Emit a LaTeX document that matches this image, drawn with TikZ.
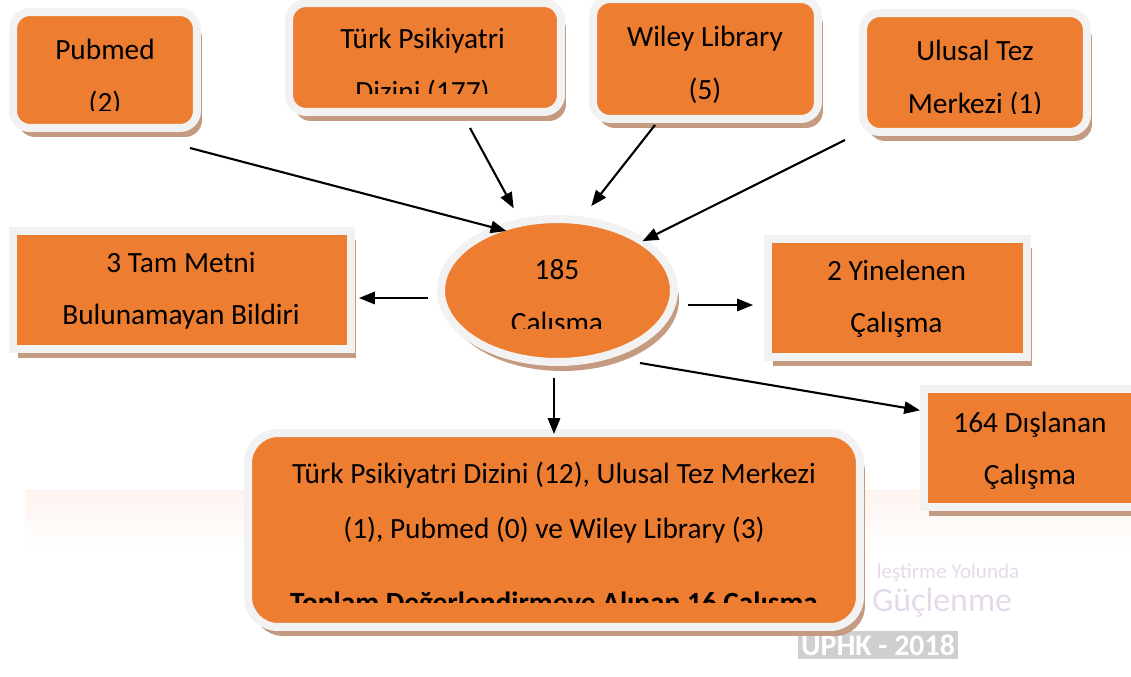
\documentclass[tikz,border=0pt]{standalone}
\usepackage{fontspec}
\setmainfont{Carlito}
\usepackage{xcolor}
\usepackage{tikz}
\usetikzlibrary{arrows.meta, shapes.geometric, shadows}

\definecolor{turuncu}{RGB}{237,125,49}
\definecolor{acikgri}{RGB}{242,242,242}
\definecolor{kahve}{RGB}{196,154,128}
\definecolor{leylak}{RGB}{230,218,234}
\definecolor{seftali}{RGB}{254,244,239}

\tikzset{
  kutu/.style={draw=acikgri, line width=0.16cm, fill=turuncu, inner sep=0pt,
    drop shadow={shadow xshift=0.1cm, shadow yshift=-0.18cm, fill=kahve, opacity=1}},
  yuvarlak/.style={kutu, rounded corners=0.34cm},
  yazi/.style={anchor=base, inner sep=0pt, font=\fontsize{16.7}{20}\selectfont},
  ok/.style={->, line width=1.2pt},
}

\begin{document}
\begin{tikzpicture}[x=0.02cm, y=-0.02cm, >={Triangle[length=9pt,width=7pt]}]
    % sayfa ve arka plan
    \fill[white] (0,0) rectangle (1131,676);
    \useasboundingbox (0,0) rectangle (1131,676);
    \shade[top color=seftali, bottom color=white] (25,490) rectangle (1131,550);
    \node[font=\fontsize{12}{12}\selectfont, text=leylak] (wm1) at (948,573) {leştirme Yolunda};
    \node[font=\fontsize{19.3}{20}\selectfont, text=leylak] (wm2) at (942,603) {Güçlenme};
    \node[fill=gray!38, text=white, font=\bfseries\fontsize{17}{17}\selectfont, inner sep=2pt] (wm3) at (878,645) {UPHK - 2018};

    % kaynak kutulari
    \node[yuvarlak, minimum width=3.68cm, minimum height=2.32cm] (pub) at (105,70) {};
    \node[yuvarlak, minimum width=5.44cm, minimum height=2.18cm] (tpd) at (425,57.5) {};
    \node[yuvarlak, minimum width=4.5cm, minimum height=2.4cm] (wil) at (705.5,59) {};
    \node[yuvarlak, minimum width=4.48cm, minimum height=2.38cm] (ulu) at (975,72.5) {};

    % ortadaki elips ve sonuc kutulari
    \node[kutu, ellipse, minimum width=4.66cm, minimum height=2.86cm] (ell) at (557.5,290.5) {};
    \node[kutu, minimum width=6.76cm, minimum height=2.36cm] (tam) at (182,290) {};
    \node[kutu, minimum width=5.18cm, minimum height=2.36cm] (yin) at (897.5,298) {};
    \node[kutu, minimum width=4.22cm, minimum height=2.36cm] (dis) at (1029.5,448) {};
    \node[yuvarlak, rounded corners=0.6cm, minimum width=12.24cm, minimum height=3.88cm] (sonuc) at (554,530) {};

    % yazilar (kutunun altinda kesilenler)
    \begin{scope}
        \clip (0,0) rectangle (1131,110);
        \node[yazi] (pub1) at (105,59) {Pubmed};
        \node[yazi] (pub2) at (105,112) {(2)};
    \end{scope}
    \begin{scope}
        \clip (0,0) rectangle (1131,93);
        \node[yazi] (tpd1) at (422.5,48) {Türk Psikiyatri};
        \node[yazi] (tpd2) at (422.5,101) {Dizini (177)};
    \end{scope}
    \node[yazi] (wil1) at (705,46) {Wiley Library};
    \node[yazi] (wil2) at (705,99) {(5)};
    \begin{scope}
        \clip (0,0) rectangle (1131,113);
        \node[yazi] (ulu1) at (975,60) {Ulusal Tez};
        \node[yazi] (ulu2) at (975,113) {Merkezi (1)};
    \end{scope}
    \begin{scope}
        \clip (0,0) rectangle (1131,328);
        \node[yazi] (ell1) at (557,279) {185};
        \node[yazi] (ell2) at (557,332) {Çalışma};
    \end{scope}
    \node[yazi] (tam1) at (181,272) {3 Tam Metni};
    \node[yazi] (tam2) at (181,324) {Bulunamayan Bildiri};
    \node[yazi] (yin1) at (896.5,280) {2 Yinelenen};
    \node[yazi] (yin2) at (896.5,332) {Çalışma};
    \node[yazi] (dis1) at (1030,432) {164 Dışlanan};
    \node[yazi] (dis2) at (1030,484) {Çalışma};
    \node[yazi] (s1) at (554,483) {Türk Psikiyatri Dizini (12), Ulusal Tez Merkezi};
    \node[yazi] (s2) at (554,538) {(1), Pubmed (0) ve Wiley Library (3)};
    \begin{scope}
        \clip (0,0) rectangle (1131,602);
        \node[yazi, font=\bfseries\fontsize{16.7}{20}\selectfont] (s3) at (554,612) {Toplam Değerlendirmeye Alınan 16 Çalışma};
    \end{scope}

    % oklar
    \coordinate (pubcik) at (190,148);
    \coordinate (tpdcik) at (470,128);
    \coordinate (wilcik) at (655,125);
    \coordinate (ulucik) at (845,140);
    \coordinate (solcik) at (428,298);
    \coordinate (sagcik) at (688,305);
    \coordinate (altcik) at (554,378);
    \coordinate (discik) at (640,363);
    \draw[ok, shorten >=-0.3cm] (pubcik) -- (ell.136);
    \draw[ok, shorten >=0.24cm] (tpdcik) -- (ell.118);
    \draw[ok, shorten >=0.27cm] (wilcik) -- (ell.71);
    \draw[ok, shorten >=-0.08cm] (ulucik) -- (ell.30);
    \draw[ok, shorten >=0.08cm] (solcik) -- (solcik -| tam.east);
    \draw[ok, shorten >=0.22cm] (sagcik) -- (sagcik -| yin.west);
    \draw[ok, shorten >=-0.1cm] (altcik) -- (altcik |- sonuc.north);
    \draw[ok] (discik) -- (dis.161);
\end{tikzpicture}
\end{document}
